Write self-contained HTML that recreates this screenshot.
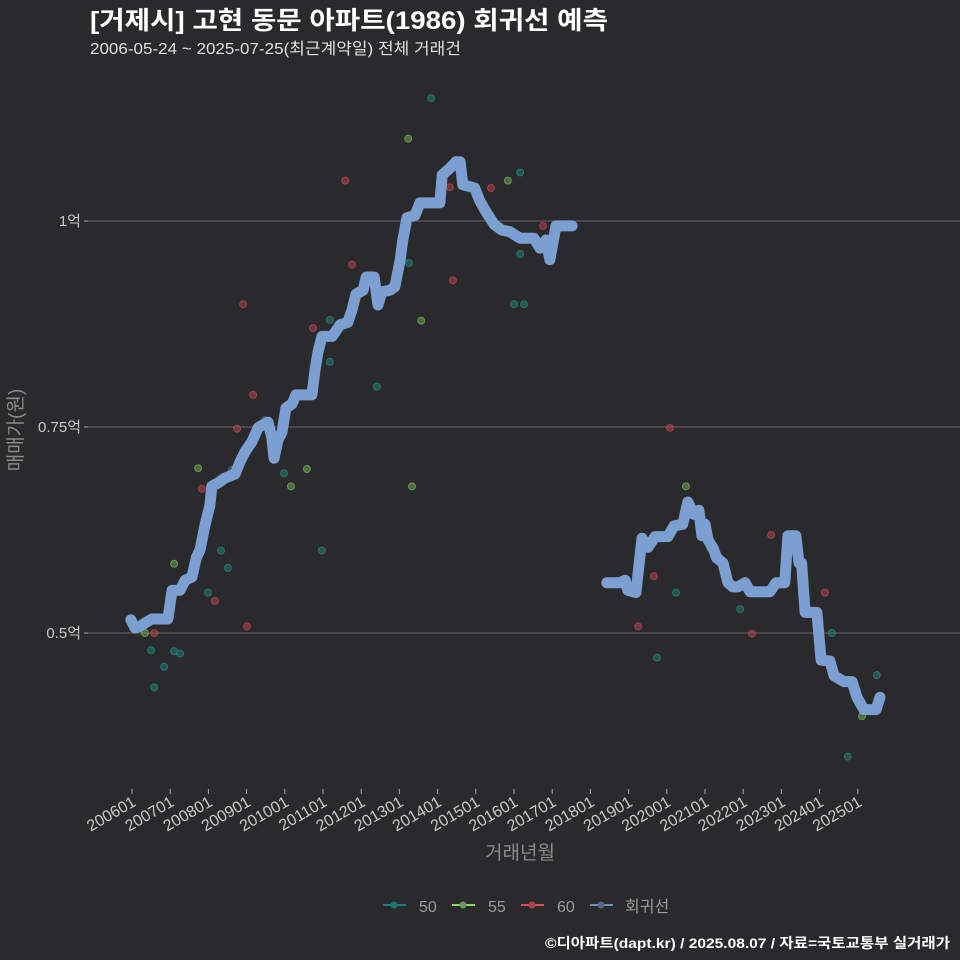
<!DOCTYPE html>
<html><head><meta charset="utf-8">
<style>
html,body{margin:0;padding:0;background:#2a2a2c;}
svg{display:block;font-family:"Liberation Sans","Noto Sans CJK KR",sans-serif;}
</style></head>
<body>
<svg id="chart" width="960" height="960" viewBox="0 0 960 960">
<rect width="960" height="960" fill="#2a2a2c"/>
<text x="90" y="29" font-size="25" font-weight="bold" fill="#ffffff" textLength="518" lengthAdjust="spacingAndGlyphs">[거제시] 고현 동문 아파트(1986) 회귀선 예측</text>
<text x="90" y="54" font-size="16" fill="#e0e0e0" textLength="371" lengthAdjust="spacingAndGlyphs">2006-05-24 ~ 2025-07-25(최근계약일) 전체 거래건</text>
<g id="grid"></g>
<g id="yticks"></g>
<g id="xticks"></g>
<g id="points"></g>
<g id="line"></g>
<text x="0" y="0" transform="translate(22,430) rotate(-90)" text-anchor="middle" font-size="19" fill="#8a8a8a">매매가(원)</text>
<text x="520" y="859" text-anchor="middle" font-size="19" fill="#8a8a8a">거래년월</text>
<g>
<g><line x1="383" y1="905" x2="406" y2="905" stroke="#1f8080" stroke-width="2"/><circle cx="394" cy="905" r="3.5" fill="#1f7070"/><text x="419" y="912" font-size="16" fill="#9a9a9a">50</text></g>
<g><line x1="452" y1="905" x2="475" y2="905" stroke="#86d86a" stroke-width="2"/><circle cx="463" cy="905" r="3.5" fill="#6a9a55"/><text x="488" y="912" font-size="16" fill="#9a9a9a">55</text></g>
<g><line x1="521" y1="905" x2="544" y2="905" stroke="#e05050" stroke-width="2"/><circle cx="532" cy="905" r="3.5" fill="#a94048"/><text x="557" y="912" font-size="16" fill="#9a9a9a">60</text></g>
<g><line x1="590" y1="905" x2="613" y2="905" stroke="#6f8fc0" stroke-width="2"/><circle cx="601" cy="905" r="3.5" fill="#55698a"/><text x="625" y="912" font-size="16" fill="#9a9a9a">회귀선</text></g>
</g>
<text x="950" y="948" text-anchor="end" font-size="14" font-weight="bold" fill="#ffffff" textLength="405" lengthAdjust="spacingAndGlyphs">©디아파트(dapt.kr) / 2025.08.07 / 자료=국토교통부 실거래가</text>
</svg>
<script>
const yTicks = [0.5, 0.75, 1.0];
const yTickLabels = ["0.5억", "0.75억", "1억"];
const xTickYears = [2006,2007,2008,2009,2010,2011,2012,2013,2014,2015,2016,2017,2018,2019,2020,2021,2022,2023,2024,2025];
const xTickLabels = ["200601","200701","200801","200901","201001","201101","201201","201301","201401","201501","201601","201701","201801","201901","202001","202101","202201","202301","202401","202501"];

const lineDates = [2005.97,2006.08,2006.21,2006.37,2006.52,2006.94,2007.05,2007.26,2007.39,2007.57,2007.68,2007.78,2007.91,2008.04,2008.09,2008.25,2008.43,2008.70,2008.83,2008.96,2009.14,2009.30,2009.40,2009.56,2009.66,2009.72,2009.82,2009.93,2010.03,2010.19,2010.29,2010.71,2010.79,2010.87,2010.97,2011.24,2011.45,2011.65,2011.76,2011.86,2012.05,2012.13,2012.34,2012.44,2012.54,2012.75,2012.88,2013.02,2013.09,2013.20,2013.41,2013.54,2013.75,2014.06,2014.12,2014.32,2014.48,2014.59,2014.66,2014.97,2015.10,2015.27,2015.48,2015.68,2015.89,2016.16,2016.52,2016.68,2016.84,2016.94,2017.10,2017.52,
null,
2018.43,2018.77,2018.91,2018.98,2019.19,2019.35,2019.51,2019.69,2020.03,2020.19,2020.42,2020.55,2020.71,2020.84,2020.92,2021.00,2021.08,2021.21,2021.31,2021.47,2021.60,2021.73,2021.86,2022.05,2022.18,2022.70,2022.86,2023.09,2023.17,2023.38,2023.46,2023.53,2023.62,2023.93,2024.04,2024.27,2024.38,2024.64,2024.85,2024.98,2025.16,2025.48,2025.58];
const lineValues = [0.516,0.506,0.508,0.513,0.517,0.517,0.552,0.552,0.564,0.568,0.591,0.601,0.631,0.655,0.678,0.682,0.688,0.693,0.708,0.720,0.732,0.749,0.752,0.756,0.737,0.712,0.734,0.744,0.773,0.778,0.789,0.789,0.819,0.841,0.860,0.860,0.874,0.877,0.892,0.911,0.916,0.932,0.932,0.898,0.914,0.916,0.920,0.953,0.977,1.004,1.007,1.022,1.022,1.022,1.056,1.064,1.072,1.072,1.044,1.040,1.025,1.011,0.996,0.989,0.987,0.979,0.979,0.967,0.977,0.953,0.994,0.994,
null,
0.561,0.561,0.564,0.552,0.549,0.615,0.604,0.617,0.617,0.630,0.632,0.659,0.644,0.649,0.618,0.632,0.613,0.603,0.591,0.585,0.561,0.556,0.556,0.561,0.550,0.550,0.561,0.561,0.618,0.618,0.585,0.585,0.525,0.525,0.467,0.466,0.448,0.441,0.441,0.422,0.407,0.407,0.422];

const g55Dates = [2006.34,2007.10,2007.73,2010.16,2010.58,2013.33,2013.23,2013.57,2015.84,2020.50,2025.11];
const g55Values = [0.500,0.584,0.700,0.678,0.699,0.678,1.100,0.879,1.049,0.678,0.399];
const g60Dates = [2006.58,2007.83,2008.17,2008.75,2008.91,2009.01,2009.17,2010.74,2011.58,2011.76,2014.32,2014.40,2015.40,2016.76,2019.25,2019.66,2020.08,2022.23,2022.73,2024.14];
const g60Values = [0.500,0.675,0.539,0.748,0.899,0.508,0.789,0.870,1.049,0.947,1.041,0.928,1.040,0.994,0.508,0.569,0.749,0.499,0.619,0.549];
const g50Dates = [2006.50,2006.58,2006.84,2007.10,2007.26,2007.99,2008.33,2008.51,2008.62,2009.48,2009.98,2010.97,2011.18,2011.18,2012.41,2013.25,2013.83,2016.00,2016.16,2016.16,2016.26,2019.74,2020.24,2021.13,2021.92,2024.32,2024.74,2025.50];
const g50Values = [0.479,0.434,0.459,0.478,0.475,0.549,0.600,0.579,0.698,0.758,0.694,0.600,0.880,0.829,0.799,0.949,1.149,0.899,1.059,0.960,0.899,0.470,0.549,0.603,0.529,0.500,0.350,0.449];

const NS = "http://www.w3.org/2000/svg";
function xScale(t){ return 132 + (t - 2006) * 38.2; }
function yScale(v){ return 633 - (v - 0.5) * 824; }
function mk(tag, attrs, parent){ const e = document.createElementNS(NS, tag); for (const k in attrs) e.setAttribute(k, attrs[k]); parent.appendChild(e); return e; }

const grid = document.getElementById('grid'), yt = document.getElementById('yticks');
yTicks.forEach((v, i) => {
  const ln = mk('line', {x1: 88, x2: 960, y1: yScale(v), y2: yScale(v), stroke: '#5a5a5c', 'stroke-width': 1.3}, grid);
  
  
  const tk = mk('line', {x1: 84, x2: 88, y1: yScale(v), y2: yScale(v), stroke: '#aaaaaa', 'stroke-width': 1}, yt);
  
  
  const tx = mk('text', {x: 81, y: yScale(v) + 5, 'text-anchor': 'end', 'font-size': 15, fill: '#c8c8c8'}, yt);
  tx.textContent = yTickLabels[i];
  
  
});
const xt = document.getElementById('xticks');
xTickYears.forEach((yr, i) => {
  const x = xScale(yr);
  const tk = mk('line', {x1: x, x2: x, y1: 789, y2: 794, stroke: '#aaaaaa', 'stroke-width': 1}, xt);
  
  
  const tx = mk('text', {x: 0, y: 0, 'text-anchor': 'end', 'font-size': 16, fill: '#c8c8c8', transform: 'translate(' + (x + 5) + ',805) rotate(-30)'}, xt);
  tx.textContent = xTickLabels[i];
  
  
});

const pts = document.getElementById('points');
function drawPts(dates, vals, fill, stroke, name){
  dates.forEach((d, i) => {
    const c = mk('circle', {cx: xScale(d), cy: yScale(vals[i]), r: 3.5, fill: fill, 'fill-opacity': 0.55, stroke: stroke, 'stroke-opacity': 0.6, 'stroke-width': 1}, pts);
    
    
  });
}
drawPts(g50Dates, g50Values, '#1f7a72', '#2a9a90', 'point-50');
drawPts(g55Dates, g55Values, '#6aa050', '#86c86a', 'point-55');
drawPts(g60Dates, g60Values, '#b0404a', '#d05058', 'point-60');

const lg = document.getElementById('line');
let segs = [], cur = [];
lineDates.forEach((d, i) => {
  if (d === null) { if (cur.length) segs.push(cur); cur = []; }
  else cur.push(xScale(d).toFixed(1) + ',' + yScale(lineValues[i]).toFixed(1));
});
if (cur.length) segs.push(cur);
segs.forEach(s => {
  const p = mk('polyline', {points: s.join(' '), fill: 'none', stroke: '#7b9fd1', 'stroke-width': 11, 'stroke-linejoin': 'round', 'stroke-linecap': 'round'}, lg);
  
  
});
</script>
</body></html>
